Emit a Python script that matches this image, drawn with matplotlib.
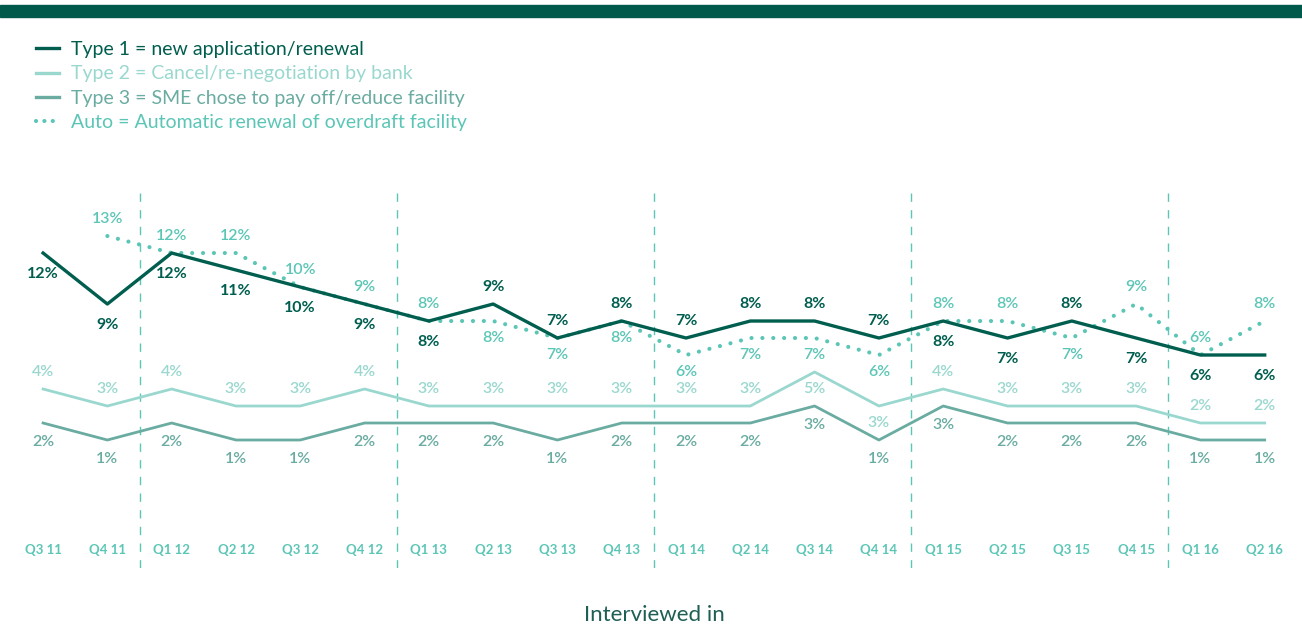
import matplotlib.pyplot as plt
from matplotlib.lines import Line2D
from matplotlib.patches import Rectangle
import matplotlib.transforms as mtransforms

plt.rcParams['font.family'] = ['Lato', 'DejaVu Sans']

quarters = ['Q3 11', 'Q4 11', 'Q1 12', 'Q2 12', 'Q3 12', 'Q4 12', 'Q1 13', 'Q2 13', 'Q3 13', 'Q4 13',
            'Q1 14', 'Q2 14', 'Q3 14', 'Q4 14', 'Q1 15', 'Q2 15', 'Q3 15', 'Q4 15', 'Q1 16', 'Q2 16']
type1 = [12, 9, 12, 11, 10, 9, 8, 9, 7, 8, 7, 8, 8, 7, 8, 7, 8, 7, 6, 6]
type2 = [4, 3, 4, 3, 3, 4, 3, 3, 3, 3, 3, 3, 5, 3, 4, 3, 3, 3, 2, 2]
type3 = [2, 1, 2, 1, 1, 2, 2, 2, 1, 2, 2, 2, 3, 1, 3, 2, 2, 2, 1, 1]
auto = [None, 13, 12, 12, 10, 9, 8, 8, 7, 8, 6, 7, 7, 6, 8, 8, 7, 9, 6, 8]
# label position: 1 = above, -1 = below
type1_pos = [-1, -1, -1, -1, -1, -1, -1, 1, 1, 1, 1, 1, 1, 1, -1, -1, 1, -1, -1, -1]
type2_pos = [1] * 12 + [-1, -1] + [1] * 6
auto_pos = [0, 1, 1, 1, 1, 1, 1, -1, -1, -1, -1, -1, -1, -1, 1, 1, -1, 1, 1, 1]
year_breaks = [1.5, 5.5, 9.5, 13.5, 17.5]

c1 = '#005e4f'
c2 = '#9ad8cf'
c3 = '#6aaca1'
c_auto = '#5cc6b6'

fig = plt.figure(figsize=(13.02, 6.28), dpi=100)
fig.patches.append(Rectangle((0, 1 - 17 / 628), 1, 12 / 628, transform=fig.transFigure,
                             color='#005a4c', zorder=0))

ax = fig.add_axes([0, 1 - 568 / 628, 1, 376 / 628])
ax.set_xlim(-0.67, 19.58)
ax.set_ylim(-6.53, 15.59)
ax.axis('off')

x = list(range(len(quarters)))
ax.plot(x, type3, color=c3, lw=2.0, zorder=2)
ax.plot(x, type2, color=c2, lw=2.0, zorder=2)
ax_x = [i for i, v in enumerate(auto) if v is not None]
ax_v = [v for v in auto if v is not None]
ax.plot(ax_x, ax_v, color=c_auto, lw=3, linestyle=(0, (0.01, 2.6)), dash_capstyle='round', zorder=3)
ax.plot(x, type1, color=c1, lw=2.4, zorder=4)

for b in year_breaks:
    ax.axvline(b, color=c_auto, lw=1, linestyle=(0, (6, 6)), zorder=1)

fs = 11.5
for i in x:
    ax.annotate(f'{type1[i]}%', (i, type1[i]), xytext=(0, 12.5 * type1_pos[i] if type1_pos[i] > 0 else -15),
                textcoords='offset points', ha='center', va='center', color=c1,
                fontsize=fs, fontweight='bold')
    ax.annotate(f'{type2[i]}%', (i, type2[i]), xytext=(0, 12 if type2_pos[i] > 0 else -12),
                textcoords='offset points', ha='center', va='center', color=c2,
                fontsize=fs, fontweight='semibold')
    ax.annotate(f'{type3[i]}%', (i, type3[i]), xytext=(0, -13.5), textcoords='offset points',
                ha='center', va='center', color=c3, fontsize=fs, fontweight='semibold')
    if auto[i] is not None:
        ax.annotate(f'{auto[i]}%', (i, auto[i]), xytext=(0, 12 * auto_pos[i]),
                    textcoords='offset points', ha='center', va='center', color=c_auto,
                    fontsize=fs, fontweight='semibold')

trans = mtransforms.blended_transform_factory(ax.transData, ax.transAxes)
for i, q in enumerate(quarters):
    ax.text(i, 18 / 376, q, transform=trans, ha='center', va='center', color=c_auto,
            fontsize=9.5, fontweight='bold')

fig.text(654 / 1302, 1 - 615 / 628, 'Interviewed in', ha='center', va='center',
         color='#1d5e55', fontsize=16)

handles = [Line2D([], [], color=c1, lw=2.4),
           Line2D([], [], color=c2, lw=2.4),
           Line2D([], [], color=c3, lw=2.4),
           Line2D([], [], color=c_auto, lw=3, linestyle=(0, (0.01, 2.0)), dash_capstyle='round')]
labels = ['Type 1 = new application/renewal',
          'Type 2 = Cancel/re-negotiation by bank',
          'Type 3 = SME chose to pay off/reduce facility',
          'Auto = Automatic renewal of overdraft facility']
fig.legend(handles, labels, loc='upper left', bbox_to_anchor=(36 / 1302, 1 - 41 / 628),
           frameon=False, fontsize=14, labelcolor='linecolor', handlelength=1.2,
           handletextpad=0.6, labelspacing=0.38, borderaxespad=0, borderpad=0)

fig.savefig('out.png', dpi=100)
